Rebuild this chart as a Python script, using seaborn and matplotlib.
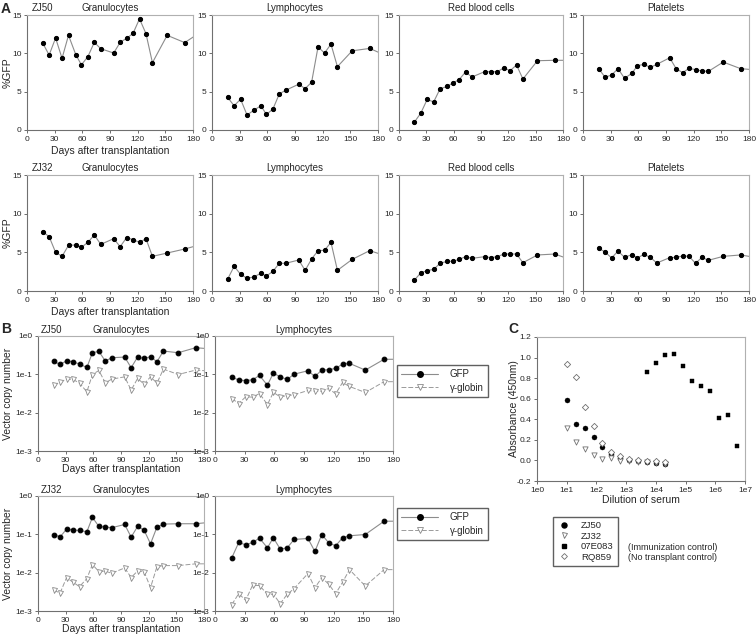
import numpy as np
import pandas as pd
import seaborn as sns
import matplotlib.pyplot as plt
from matplotlib.lines import Line2D

# days after transplantation (last point lies past the 180 day axis limit)
days = [17, 24, 31, 38, 45, 53, 59, 66, 73, 80, 94, 101, 108, 115, 122, 129, 136, 152, 171, 190]

# panel A: %GFP
zj50_gran = [11.35, 9.78, 12.0, 9.35, 12.35, 9.8, 8.5, 9.57, 11.43, 10.6, 10.04, 11.43, 11.96, 12.6, 14.5, 12.57, 8.78, 12.35, 11.4, 12.9]
zj50_lymph = [4.24, 3.16, 4.02, 1.95, 2.55, 3.16, 2.03, 2.72, 4.71, 5.19, 5.97, 5.4, 6.23, 10.85, 10.03, 11.2, 8.26, 10.33, 10.64, 9.63]
zj50_rbc = [1.04, 2.22, 4.0, 3.65, 5.35, 5.7, 6.13, 6.57, 7.57, 6.91, 7.61, 7.61, 7.61, 8.09, 7.74, 8.48, 6.65, 9.04, 9.09, 9.09]
zj50_plt = [8.0, 6.87, 7.18, 8.0, 6.74, 7.39, 8.39, 8.56, 8.17, 8.56, 9.42, 8.0, 7.48, 8.04, 7.87, 7.7, 7.65, 8.86, 8.0, 7.81]
zj32_gran = [7.67, 7.03, 5.0, 4.48, 5.9, 5.95, 5.65, 6.29, 7.24, 6.03, 6.77, 5.73, 6.9, 6.64, 6.29, 6.77, 4.48, 4.91, 5.43, 6.06]
zj32_lymph = [1.55, 3.19, 2.16, 1.64, 1.81, 2.28, 1.94, 2.54, 3.58, 3.58, 4.01, 2.67, 4.14, 5.22, 5.26, 6.29, 2.67, 4.09, 5.22, 4.48]
zj32_rbc = [1.42, 2.37, 2.63, 2.8, 3.58, 3.84, 3.84, 4.09, 4.44, 4.22, 4.44, 4.31, 4.44, 4.78, 4.78, 4.78, 3.66, 4.66, 4.78, 3.98]
zj32_plt = [5.52, 5.04, 4.27, 5.17, 4.35, 4.7, 4.27, 4.74, 4.35, 3.62, 4.31, 4.35, 4.53, 4.48, 3.58, 4.35, 3.97, 4.48, 4.66, 4.28]

# panel B: vector copy number
zj50_gran_gfp = [0.217, 0.181, 0.226, 0.213, 0.185, 0.151, 0.366, 0.397, 0.222, 0.271, 0.282, 0.149, 0.282, 0.26, 0.288, 0.213, 0.405, 0.366, 0.495, 0.455]
zj50_gran_glob = [0.0522, 0.0626, 0.075, 0.0735, 0.059, 0.035, 0.099, 0.126, 0.060, 0.075, 0.086, 0.0387, 0.078, 0.0555, 0.086, 0.059, 0.137, 0.099, 0.129, 0.12]
zj50_lymph_gfp = [0.086, 0.0706, 0.069, 0.072, 0.0935, 0.052, 0.1076, 0.086, 0.0735, 0.101, 0.124, 0.088, 0.129, 0.132, 0.143, 0.185, 0.193, 0.129, 0.247, 0.247]
zj50_lymph_glob = [0.0234, 0.0173, 0.0259, 0.0254, 0.0316, 0.0163, 0.0336, 0.0259, 0.028, 0.0292, 0.0379, 0.0364, 0.0364, 0.0428, 0.031, 0.0614, 0.0482, 0.0336, 0.0643, 0.0643]
zj32_gran_gfp = [0.099, 0.086, 0.137, 0.129, 0.126, 0.117, 0.277, 0.161, 0.155, 0.149, 0.181, 0.0846, 0.161, 0.129, 0.0566, 0.155, 0.185, 0.189, 0.189, 0.21]
zj32_gran_glob = [0.00347, 0.00296, 0.00745, 0.00562, 0.00433, 0.00702, 0.0163, 0.0107, 0.0109, 0.00968, 0.0133, 0.00745, 0.0111, 0.0107, 0.00408, 0.0144, 0.0153, 0.0153, 0.017, 0.017]
zj32_lymph_gfp = [0.0244, 0.0614, 0.0533, 0.0614, 0.0797, 0.0445, 0.0813, 0.041, 0.0445, 0.0735, 0.078, 0.0357, 0.099, 0.060, 0.0502, 0.0813, 0.0917, 0.099, 0.22, 0.22]
zj32_lymph_glob = [0.00147, 0.00284, 0.0019, 0.0047, 0.0046, 0.00273, 0.00273, 0.00156, 0.00273, 0.00384, 0.0095, 0.004, 0.00745, 0.005, 0.00284, 0.00562, 0.012, 0.0045, 0.012, 0.012]

# panel C: ELISA absorbance
dilution = [10, 20, 40, 80, 160, 320, 640, 1280, 2560, 5120, 10240, 20480]
dilution_imm = [5120, 10240, 20480, 40960, 81920, 163840, 327680, 655360, 1310720, 2621440, 5242880]
abs_zj50 = [0.59, 0.355, 0.315, 0.225, 0.135, 0.06, 0.02, 0.0, -0.01, -0.02, -0.025, -0.03]
abs_zj32 = [0.32, 0.175, 0.115, 0.055, 0.015, 0.025, -0.005, -0.01, -0.015, -0.02, -0.025, -0.03]
abs_07e083 = [0.855, 0.945, 1.025, 1.035, 0.92, 0.77, 0.72, 0.675, 0.415, 0.44, 0.145]
abs_rq859 = [0.94, 0.815, 0.52, 0.33, 0.165, 0.08, 0.04, 0.015, 0.005, -0.005, -0.005, -0.015]

sns.set_style('ticks')
plt.rcParams['font.family'] = ['Liberation Sans', 'DejaVu Sans']

W, H = 756, 637
fig = plt.figure(figsize=(W / 100, H / 100), dpi=100)

LINE = '#8c8c8c'


def add_ax(l, t, r, b):
    return fig.add_axes([l / W, 1 - b / H, (r - l) / W, (b - t) / H])


def style(ax):
    for s in ['left', 'bottom']:
        ax.spines[s].set_color('#707070')
        ax.spines[s].set_linewidth(0.8)
    for s in ['top', 'right']:
        ax.spines[s].set_visible(True)
        ax.spines[s].set_color('#b0b0b0')
        ax.spines[s].set_linewidth(0.8)
    ax.tick_params(direction='out', length=2.5, width=0.6, color='#555555',
                   labelsize=6, pad=1.5)
    ax.tick_params(which='minor', length=0)


def days_axis(ax):
    ax.set_xlim(0, 180)
    ax.set_xticks(range(0, 181, 30))


def left_label(ax, text, x_px):
    # put the right edge of a y label at a pixel column of the figure
    l = ax.get_position().x0 * W
    w = ax.get_position().width * W
    ax.set_ylabel(text, fontsize=7.5)
    ax.yaxis.set_label_coords((x_px - l) / w, 0.5)


def draw_a(ax, vals, title, subject=None, label=False):
    sns.lineplot(x=days, y=vals, ax=ax, color=LINE, lw=0.8, marker='o',
                 markersize=3.0, markerfacecolor='black', markeredgecolor='black',
                 estimator=None, sort=False)
    days_axis(ax)
    ax.set_ylim(0, 15)
    ax.set_yticks([0, 5, 10, 15])
    style(ax)
    ax.set_title(title, fontsize=7, pad=3)
    if subject:
        ax.set_title(subject, fontsize=7, pad=3, loc='left', x=0.03)
    ax.set_ylabel('')
    if label:
        ax.set_xlabel('Days after transplantation', fontsize=7.5, labelpad=2.5)
        left_label(ax, '%GFP', 13)
    else:
        ax.set_xlabel('')


def draw_b(ax, gfp, glob, title, subject=None, label=False):
    sns.lineplot(x=days, y=gfp, ax=ax, color=LINE, lw=0.8, marker='o',
                 markersize=3.4, markerfacecolor='black', markeredgecolor='black',
                 estimator=None, sort=False)
    sns.lineplot(x=days, y=glob, ax=ax, color='#9a9a9a', lw=0.7, linestyle=(0, (5, 2)),
                 marker='v', markersize=3.6, markerfacecolor='white',
                 markeredgecolor='#8a8a8a', markeredgewidth=0.6,
                 estimator=None, sort=False)
    ax.set_yscale('log')
    ax.set_ylim(1e-3, 1)
    ax.set_yticks([1e-3, 1e-2, 1e-1, 1])
    ax.set_yticklabels(['1e-3', '1e-2', '1e-1', '1e0'])
    days_axis(ax)
    style(ax)
    ax.set_title(title, fontsize=7, pad=2)
    if subject:
        ax.set_title(subject, fontsize=7, pad=2, loc='left', x=0.015)
    ax.set_ylabel('')
    if label:
        ax.set_xlabel('Days after transplantation', fontsize=7.5, labelpad=0)
        left_label(ax, 'Vector copy number', 13)
    else:
        ax.set_xlabel('')


# ---- panel A ----
cols_a = [(27, 193), (212, 378), (399, 563), (583, 749)]
titles_a = ['Granulocytes', 'Lymphocytes', 'Red blood cells', 'Platelets']
rows_a = [((15, 130), 'ZJ50', [zj50_gran, zj50_lymph, zj50_rbc, zj50_plt]),
          ((175, 291), 'ZJ32', [zj32_gran, zj32_lymph, zj32_rbc, zj32_plt])]
for (top, bot), subj, series in rows_a:
    for i, ((l, r), t, vals) in enumerate(zip(cols_a, titles_a, series)):
        ax = add_ax(l, top, r, bot)
        draw_a(ax, vals, t, subj if i == 0 else None, label=(i == 0))

# ---- panel B ----
rows_b = [((336, 451), 'ZJ50', [(zj50_gran_gfp, zj50_gran_glob), (zj50_lymph_gfp, zj50_lymph_glob)], 365),
          ((496, 611), 'ZJ32', [(zj32_gran_gfp, zj32_gran_glob), (zj32_lymph_gfp, zj32_lymph_glob)], 508)]
for (top, bot), subj, pairs, leg_top in rows_b:
    ax1 = add_ax(38, top, 204, bot)
    draw_b(ax1, pairs[0][0], pairs[0][1], 'Granulocytes', subj, label=True)
    ax2 = add_ax(215, top, 393, bot)
    draw_b(ax2, pairs[1][0], pairs[1][1], 'Lymphocytes')
    handles = [Line2D([], [], color=LINE, lw=0.8, marker='o', ms=4,
                      mfc='black', mec='black'),
               Line2D([], [], color='#9a9a9a', lw=0.7, ls=(0, (5, 2)), marker='v', ms=4,
                      mfc='white', mec='#8a8a8a', mew=0.6)]
    fig.legend(handles, ['GFP', '\u03b3-globin'], loc='upper left',
               bbox_to_anchor=(397 / W, 1 - leg_top / H), fontsize=7,
               handlelength=3.8, handletextpad=1.2, borderpad=0.45, labelspacing=0.35,
               borderaxespad=0, fancybox=False, edgecolor='#606060', framealpha=1)

# ---- panel C ----
axc = add_ax(537, 337, 745, 481)
axc.set_xscale('log')
sns.scatterplot(x=dilution, y=abs_zj50, ax=axc, marker='o', color='black',
                edgecolor='black', s=13, linewidth=0.3)
sns.scatterplot(x=dilution, y=abs_zj32, ax=axc, marker='v', color='white',
                edgecolor='#707070', s=14, linewidth=0.6)
sns.scatterplot(x=dilution_imm, y=abs_07e083, ax=axc, marker='s', color='black',
                edgecolor='black', s=11, linewidth=0.3)
sns.scatterplot(x=dilution, y=abs_rq859, ax=axc, marker='D', color='white',
                edgecolor='#707070', s=10, linewidth=0.6)
axc.set_xlim(1, 1e7)
axc.set_ylim(-0.2, 1.2)
axc.set_xticks([10.0 ** k for k in range(8)])
axc.set_xticklabels(['1e%d' % k for k in range(8)])
axc.set_yticks(np.arange(-0.2, 1.21, 0.2))
axc.set_yticklabels(['%.1f' % v for v in np.arange(-0.2, 1.21, 0.2)])
axc.xaxis.set_minor_locator(plt.NullLocator())
style(axc)
axc.set_xlabel('Dilution of serum', fontsize=7.5, labelpad=1)
axc.set_ylabel('')
left_label(axc, 'Absorbance (450nm)', 519)

c_handles = [Line2D([], [], ls='none', marker='o', ms=3.6, mfc='black', mec='black'),
             Line2D([], [], ls='none', marker='v', ms=3.6, mfc='white', mec='#707070', mew=0.6),
             Line2D([], [], ls='none', marker='s', ms=3.2, mfc='black', mec='black'),
             Line2D([], [], ls='none', marker='D', ms=3.0, mfc='white', mec='#707070', mew=0.6)]
fig.legend(c_handles, ['ZJ50', 'ZJ32', '07E083', 'RQ859'], loc='upper left',
           bbox_to_anchor=(553 / W, 1 - 517 / H), fontsize=6.8,
           handlelength=1.5, handletextpad=1.0, borderpad=0.45, labelspacing=0.15,
           borderaxespad=0, fancybox=False, edgecolor='#606060', framealpha=1)
fig.text(628 / W, 1 - 548 / H, '(Immunization control)', fontsize=6.5, va='center')
fig.text(628 / W, 1 - 558 / H, '(No transplant control)', fontsize=6.5, va='center')

# panel letters
fig.text(1 / W, 1 - 2 / H, 'A', fontsize=10, fontweight='bold', va='top')
fig.text(1 / W, 1 - 322 / H, 'B', fontsize=10, fontweight='bold', va='top')
fig.text(508 / W, 1 - 322 / H, 'C', fontsize=10, fontweight='bold', va='top')

fig.savefig('out.png', dpi=100)
